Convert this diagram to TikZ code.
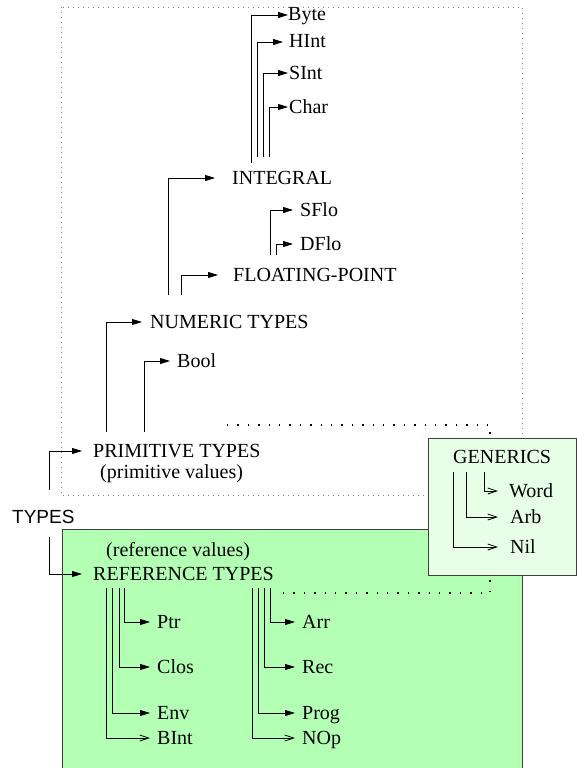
\documentclass[tikz,border=0pt]{standalone}
\usepackage{fontspec}
\setmainfont{Liberation Serif}
\newfontfamily\typesfont{Liberation Sans}
\usetikzlibrary{arrows.meta}
\definecolor{refgreen}{RGB}{179,255,179}
\definecolor{gengreen}{RGB}{230,255,230}

\begin{document}
\begin{tikzpicture}[x=1pt, y=-1pt,
	tname/.style={anchor=west, inner sep=0pt, text height=15pt, text depth=3pt, font=\fontsize{20}{24}\selectfont},
	branch/.style={line width=0.8pt, shorten >=7pt, -{Triangle[length=10pt,width=6pt]}},
	openbranch/.style={line width=0.8pt, shorten >=7pt, -{Straight Barb[length=9pt,width=6pt]}},
	dots/.style={line width=1.4pt, dash pattern=on 1.4pt off 9pt},
	]
	\useasboundingbox (0,0) rectangle (576,768);
	\draw[gray, line width=0.9pt, dash pattern=on 1pt off 4pt] (61,7) rectangle (522,495);
	\draw[black!75, fill=refgreen, line width=0.9pt] (62,529) rectangle (522,772);
	\node[draw=black!75, fill=gengreen, line width=0.9pt, inner sep=0pt, minimum width=148pt, minimum height=137pt, anchor=north west] (genbox) at (428,438) {};

	\node[tname] (byte) at (288,15) {Byte};
	\node[tname] (hint) at (289,42) {HInt};
	\node[tname] (sint) at (289,73) {SInt};
	\node[tname] (char) at (289,107) {Char};
	\node[tname] (intg) at (232,178) {INTEGRAL};
	\node[tname] (sflo) at (300,210) {SFlo};
	\node[tname] (dflo) at (300,244) {DFlo};
	\node[tname] (flpt) at (233,275) {FLOATING-POINT};
	\node[tname] (numer) at (150,322) {NUMERIC TYPES};
	\node[tname] (bool) at (177,361) {Bool};
	\node[tname] (prim) at (93,451) {PRIMITIVE TYPES};
	\node[tname] (primv) at (100,472) {(primitive values)};
	\node[tname, font=\fontsize{19}{24}\typesfont] (types) at (12,517) {TYPES};
	\node[tname] (refv) at (106,550) {(reference values)};
	\node[tname] (refer) at (93,574) {REFERENCE TYPES};
	\node[tname] (ptr) at (157,622) {Ptr};
	\node[tname] (clos) at (157,667) {Clos};
	\node[tname] (env) at (157,713) {Env};
	\node[tname] (bint) at (157,738) {BInt};
	\node[tname] (arr) at (302,622) {Arr};
	\node[tname] (rec) at (302,667) {Rec};
	\node[tname] (prog) at (302,713) {Prog};
	\node[tname] (nop) at (302,738) {NOp};
	\node[tname] (gen) at (453,457) {GENERICS};
	\node[tname] (word) at (509,491) {Word};
	\node[tname] (arb) at (510,517) {Arb};
	\node[tname] (nil) at (510,547) {Nil};

	\draw[branch, shorten >=0pt] ([xshift=19pt,yshift=6pt]intg.north west) |- (byte.west);
	\draw[branch, shorten >=6pt] ([xshift=25pt,yshift=12pt]intg.north west) |- (hint.west);
	\draw[branch, shorten >=1pt] ([xshift=31pt,yshift=12pt]intg.north west) |- (sint.west);
	\draw[branch, shorten >=1pt] ([xshift=37pt,yshift=12pt]intg.north west) |- (char.west);
	\draw[branch, shorten >=17pt] ([xshift=18pt,yshift=18pt]numer.north west) |- (intg.west);
	\draw[branch, shorten >=15pt] ([xshift=31pt,yshift=18pt]numer.north west) |- (flpt.west);
	\draw[branch] ([xshift=37pt,yshift=11pt]flpt.north west) |- (sflo.west);
	\draw[branch] ([xshift=43pt,yshift=11pt]flpt.north west) |- (dflo.west);
	\draw[branch, shorten >=8pt] ([xshift=13pt,yshift=10pt]prim.north west) |- (numer.west);
	\draw[branch] ([xshift=51pt,yshift=10pt]prim.north west) |- (bool.west);
	\draw[branch, shorten >=11pt] ([xshift=37pt,yshift=18pt]types.north west) |- (prim.west);
	\draw[branch, shorten >=11pt] ([xshift=37pt,yshift=-11pt]types.south west) |- (refer.west);
	\draw[branch] ([xshift=31pt,yshift=-5pt]refer.south west) |- (ptr.west);
	\draw[branch] ([xshift=26pt,yshift=-5pt]refer.south west) |- (clos.west);
	\draw[branch] ([xshift=19pt,yshift=-5pt]refer.south west) |- (env.west);
	\draw[openbranch] ([xshift=13pt,yshift=-5pt]refer.south west) |- (bint.west);
	\draw[branch] ([xshift=177pt,yshift=-5pt]refer.south west) |- (arr.west);
	\draw[branch] ([xshift=171pt,yshift=-5pt]refer.south west) |- (rec.west);
	\draw[branch] ([xshift=165pt,yshift=-5pt]refer.south west) |- (prog.west);
	\draw[openbranch] ([xshift=159pt,yshift=-5pt]refer.south west) |- (nop.west);
	\draw[openbranch, shorten >=11pt] ([xshift=31pt,yshift=-6pt]gen.south west) |- (word.west);
	\draw[openbranch, shorten >=12pt] ([xshift=13pt,yshift=-6pt]gen.south west) |- (arb.west);
	\draw[openbranch, shorten >=12pt] ([yshift=-6pt]gen.south west) |- (nil.west);

	\coordinate (pdots) at (227,425);
	\coordinate (rdots) at (283,593);
	\draw[dots] (pdots) -| ([xshift=62pt]genbox.north west);
	\draw[dots] (rdots) -| ([xshift=62pt]genbox.south west);
\end{tikzpicture}
\end{document}
